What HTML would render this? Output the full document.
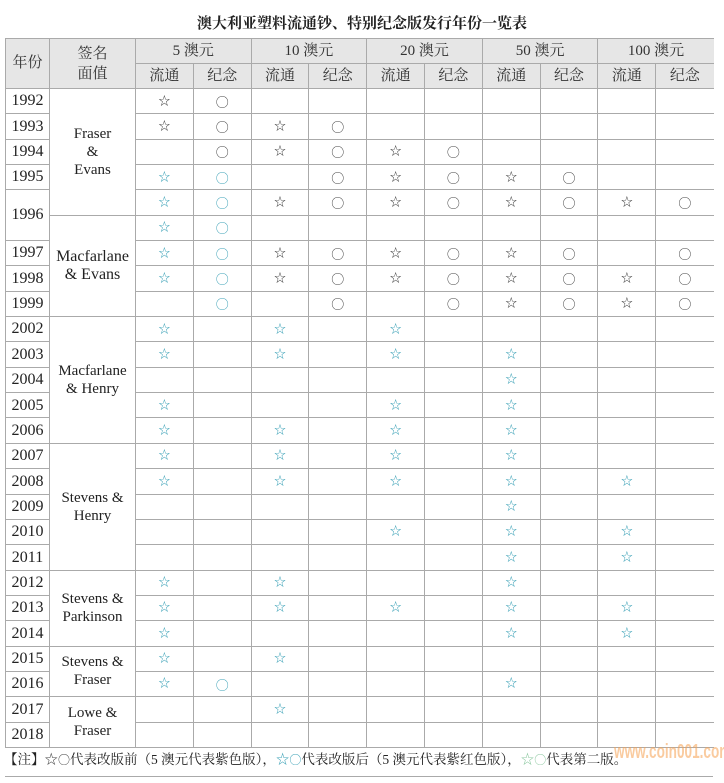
<!DOCTYPE html>
<html><head><meta charset="utf-8"><style>
html,body{margin:0;padding:0;background:#fff;width:724px;height:783px;overflow:hidden}
body{font-family:"Liberation Serif","Noto Serif CJK SC",serif;color:#222;position:relative}
.title{position:absolute;left:0;width:724px;top:12px;text-align:center;font-size:15px;font-weight:bold}
table{position:absolute;left:5px;top:38px;width:708px;border-collapse:collapse;table-layout:fixed}
td{border:1.5px solid #aaa;text-align:center;padding:0;font-size:15px;line-height:1.1;overflow:hidden}
thead td{background:#e6e6e6;height:24px;color:#333;font-size:15px}
tbody td{height:24.35px}
tbody tr td:first-child{font-size:16px}
tr>td:last-child{border-right:none}
.s{font-size:12px;color:#444}
.c,.tc{font-family:"Noto Sans CJK SC",sans-serif;font-size:13px;line-height:1;color:#444}
.tc{color:#3fa3b8}
.ts{font-size:12px;color:#3fa3b8}
.sig{font-size:15px;line-height:18px}
.note{position:absolute;left:4px;top:748px;font-size:13.5px;color:#222;white-space:nowrap}
.note .o{font-family:"Noto Sans CJK SC",sans-serif;font-size:12px}
.line{position:absolute;left:5px;width:708px;top:776px;border-top:1.5px solid #aaa}
.wm{position:absolute;left:614px;top:741px;font:bold 20px "Liberation Sans",sans-serif;color:rgba(245,160,80,0.55);white-space:nowrap;transform:scaleX(0.68);transform-origin:left top}
</style></head><body>
<div class="title">澳大利亚塑料流通钞、特别纪念版发行年份一览表</div>
<table>
<colgroup><col style="width:44px"><col style="width:86px"><col span="10" style="width:57.8px"></colgroup>
<thead>
<tr><td rowspan="2">年份</td><td rowspan="2" style="line-height:20px">签名<br>面值</td><td colspan="2">5 澳元</td><td colspan="2">10 澳元</td><td colspan="2">20 澳元</td><td colspan="2">50 澳元</td><td colspan="2">100 澳元</td></tr>
<tr><td>流通</td><td>纪念</td><td>流通</td><td>纪念</td><td>流通</td><td>纪念</td><td>流通</td><td>纪念</td><td>流通</td><td>纪念</td></tr>
</thead>
<tbody>
<tr><td>1992</td><td rowspan="5" class="sig">Fraser<br>&amp;<br>Evans</td><td class="s">☆</td><td class="c">○</td><td></td><td></td><td></td><td></td><td></td><td></td><td></td><td></td></tr>
<tr><td>1993</td><td class="s">☆</td><td class="c">○</td><td class="s">☆</td><td class="c">○</td><td></td><td></td><td></td><td></td><td></td><td></td></tr>
<tr><td>1994</td><td></td><td class="c">○</td><td class="s">☆</td><td class="c">○</td><td class="s">☆</td><td class="c">○</td><td></td><td></td><td></td><td></td></tr>
<tr><td>1995</td><td class="ts">☆</td><td class="tc">○</td><td></td><td class="c">○</td><td class="s">☆</td><td class="c">○</td><td class="s">☆</td><td class="c">○</td><td></td><td></td></tr>
<tr><td rowspan="2">1996</td><td class="ts">☆</td><td class="tc">○</td><td class="s">☆</td><td class="c">○</td><td class="s">☆</td><td class="c">○</td><td class="s">☆</td><td class="c">○</td><td class="s">☆</td><td class="c">○</td></tr>
<tr><td rowspan="4" class="sig">Macfarlane<br>&amp; Evans</td><td class="ts">☆</td><td class="tc">○</td><td></td><td></td><td></td><td></td><td></td><td></td><td></td><td></td></tr>
<tr><td>1997</td><td class="ts">☆</td><td class="tc">○</td><td class="s">☆</td><td class="c">○</td><td class="s">☆</td><td class="c">○</td><td class="s">☆</td><td class="c">○</td><td></td><td class="c">○</td></tr>
<tr><td>1998</td><td class="ts">☆</td><td class="tc">○</td><td class="s">☆</td><td class="c">○</td><td class="s">☆</td><td class="c">○</td><td class="s">☆</td><td class="c">○</td><td class="s">☆</td><td class="c">○</td></tr>
<tr><td>1999</td><td></td><td class="tc">○</td><td></td><td class="c">○</td><td></td><td class="c">○</td><td class="s">☆</td><td class="c">○</td><td class="s">☆</td><td class="c">○</td></tr>
<tr><td>2002</td><td rowspan="5" class="sig">Macfarlane<br>&amp; Henry</td><td class="ts">☆</td><td></td><td class="ts">☆</td><td></td><td class="ts">☆</td><td></td><td></td><td></td><td></td><td></td></tr>
<tr><td>2003</td><td class="ts">☆</td><td></td><td class="ts">☆</td><td></td><td class="ts">☆</td><td></td><td class="ts">☆</td><td></td><td></td><td></td></tr>
<tr><td>2004</td><td></td><td></td><td></td><td></td><td></td><td></td><td class="ts">☆</td><td></td><td></td><td></td></tr>
<tr><td>2005</td><td class="ts">☆</td><td></td><td></td><td></td><td class="ts">☆</td><td></td><td class="ts">☆</td><td></td><td></td><td></td></tr>
<tr><td>2006</td><td class="ts">☆</td><td></td><td class="ts">☆</td><td></td><td class="ts">☆</td><td></td><td class="ts">☆</td><td></td><td></td><td></td></tr>
<tr><td>2007</td><td rowspan="5" class="sig">Stevens &amp;<br>Henry</td><td class="ts">☆</td><td></td><td class="ts">☆</td><td></td><td class="ts">☆</td><td></td><td class="ts">☆</td><td></td><td></td><td></td></tr>
<tr><td>2008</td><td class="ts">☆</td><td></td><td class="ts">☆</td><td></td><td class="ts">☆</td><td></td><td class="ts">☆</td><td></td><td class="ts">☆</td><td></td></tr>
<tr><td>2009</td><td></td><td></td><td></td><td></td><td></td><td></td><td class="ts">☆</td><td></td><td></td><td></td></tr>
<tr><td>2010</td><td></td><td></td><td></td><td></td><td class="ts">☆</td><td></td><td class="ts">☆</td><td></td><td class="ts">☆</td><td></td></tr>
<tr><td>2011</td><td></td><td></td><td></td><td></td><td></td><td></td><td class="ts">☆</td><td></td><td class="ts">☆</td><td></td></tr>
<tr><td>2012</td><td rowspan="3" class="sig">Stevens &amp;<br>Parkinson</td><td class="ts">☆</td><td></td><td class="ts">☆</td><td></td><td></td><td></td><td class="ts">☆</td><td></td><td></td><td></td></tr>
<tr><td>2013</td><td class="ts">☆</td><td></td><td class="ts">☆</td><td></td><td class="ts">☆</td><td></td><td class="ts">☆</td><td></td><td class="ts">☆</td><td></td></tr>
<tr><td>2014</td><td class="ts">☆</td><td></td><td></td><td></td><td></td><td></td><td class="ts">☆</td><td></td><td class="ts">☆</td><td></td></tr>
<tr><td>2015</td><td rowspan="2" class="sig">Stevens &amp;<br>Fraser</td><td class="ts">☆</td><td></td><td class="ts">☆</td><td></td><td></td><td></td><td></td><td></td><td></td><td></td></tr>
<tr><td>2016</td><td class="ts">☆</td><td class="tc">○</td><td></td><td></td><td></td><td></td><td class="ts">☆</td><td></td><td></td><td></td></tr>
<tr><td>2017</td><td rowspan="2" class="sig">Lowe &amp;<br>Fraser</td><td></td><td></td><td class="ts">☆</td><td></td><td></td><td></td><td></td><td></td><td></td><td></td></tr>
<tr><td>2018</td><td></td><td></td><td></td><td></td><td></td><td></td><td></td><td></td><td></td><td></td></tr>
</tbody>
</table>
<div class="wm">www.coin001.com</div>
<div class="note">【注】<span style="color:#444">☆<span class="o">○</span></span>代表改版前（5 澳元代表紫色版），<span style="color:#3fa3b8">☆<span class="o">○</span></span>代表改版后（5 澳元代表紫红色版），<span style="color:#8cc8a0">☆<span class="o">○</span></span>代表第二版。</div>
<div class="line"></div>
</body></html>
